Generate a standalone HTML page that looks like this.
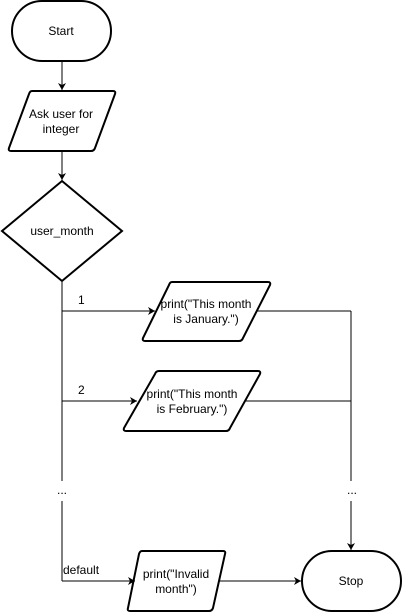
<!DOCTYPE html>
<html><head><meta charset="utf-8"><style>
html,body{margin:0;padding:0;background:#fff;}
svg{display:block;}
text{font-family:"Liberation Sans",sans-serif;font-size:12px;fill:#000;}
</style></head><body>
<svg width="402" height="612" viewBox="0 0 402 612">
<defs><marker id="a" markerWidth="8" markerHeight="8" refX="7" refY="4" orient="auto" markerUnits="userSpaceOnUse"><path d="M0,0 L7,4 L0,8 L2,4 Z" fill="#000"/></marker></defs>
<g fill="#fff" stroke="#000" stroke-width="2">
<rect x="12" y="1" width="99" height="60" rx="30" ry="30"/>
<path d="M32,91 L113,91 Q116,91 115,94 L95,148 Q94,151 91,151 L11,151 Q8,151 9,148 L29,94 Q30,91 32,91 Z"/>
<path d="M62,181 L122,231 L62,281 L2,231 Z"/>
<path d="M172,282 L268,282 Q271,282 270,285 L243,338 Q242,341 239,341 L145,341 Q142,341 143,338 L169,285 Q170,282 172,282 Z"/>
<path d="M159,371 L258,371 Q261,371 260,374 L230,428 Q229,431 226,431 L126,431 Q123,431 124,428 L155,374 Q156,371 159,371 Z"/>
<path d="M142,551 L223,551 Q226,551 225,554 L213,608 Q212,611 209,611 L130,611 Q127,611 128,608 L139,554 Q140,551 142,551 Z"/>
<rect x="302" y="551" width="99" height="60" rx="30" ry="30"/>
</g>
<g stroke="#000" stroke-width="1" fill="none">
<line x1="62" y1="61" x2="62" y2="90" marker-end="url(#a)"/>
<line x1="62" y1="151" x2="62" y2="180" marker-end="url(#a)"/>
<line x1="62" y1="281" x2="62" y2="481"/>
<line x1="62" y1="501" x2="62" y2="581"/>
<line x1="62" y1="311" x2="155" y2="311" marker-end="url(#a)"/>
<line x1="62" y1="401" x2="137" y2="401" marker-end="url(#a)"/>
<line x1="62" y1="581" x2="135" y2="581" marker-end="url(#a)"/>
<line x1="219" y1="581" x2="301" y2="581" marker-end="url(#a)"/>
<line x1="256" y1="311" x2="351" y2="311"/>
<line x1="245" y1="401" x2="351" y2="401"/>
<line x1="351" y1="311" x2="351" y2="481"/>
<line x1="351" y1="501" x2="351" y2="550" marker-end="url(#a)"/>
</g>
<text x="61" y="35" text-anchor="middle">Start</text>
<text x="61" y="118" text-anchor="middle">Ask user for</text>
<text x="61" y="133" text-anchor="middle">integer</text>
<text x="62" y="235" text-anchor="middle">user_month</text>
<text x="206" y="308" text-anchor="middle">print("This month</text>
<text x="206" y="323" text-anchor="middle">is January.")</text>
<text x="192" y="398" text-anchor="middle">print("This month</text>
<text x="192" y="413" text-anchor="middle">is February.")</text>
<text x="176" y="578" text-anchor="middle">print("Invalid</text>
<text x="176" y="593" text-anchor="middle">month")</text>
<text x="351" y="585" text-anchor="middle">Stop</text>
<text x="78" y="304">1</text>
<text x="78" y="394">2</text>
<text x="63" y="574">default</text>
<text x="62" y="494" text-anchor="middle">...</text>
<text x="352" y="494" text-anchor="middle">...</text>
</svg>
</body></html>
